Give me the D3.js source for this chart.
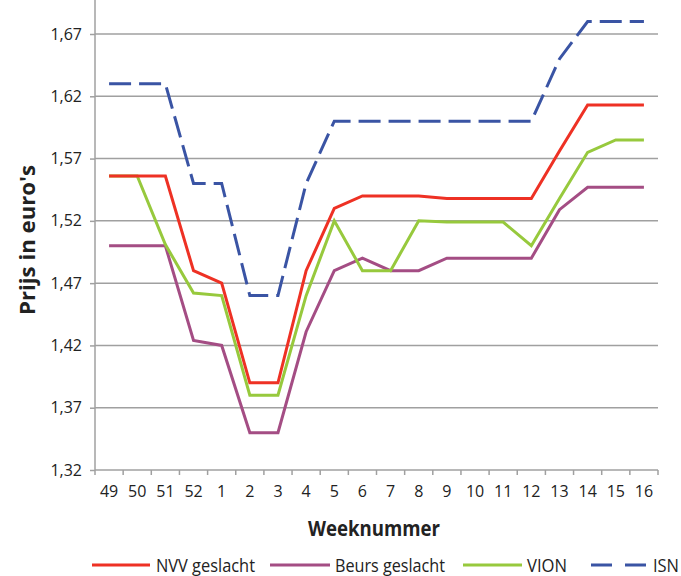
<!DOCTYPE html>
<html><head><meta charset="utf-8">
<script src="https://cdn.jsdelivr.net/npm/d3@7"></script>
<style>
body{margin:0;background:#fff;}
svg{display:block;}
text{font-family:"Open Sans",sans-serif;fill:#222;}
</style></head>
<body><svg id="c" width="681" height="576"></svg>
<script>
const weeks = ["49","50","51","52","1","2","3","4","5","6","7","8","9","10","11","12","13","14","15","16"];
const nvv   = [1.556,1.556,1.556,1.480,1.470,1.390,1.390,1.480,1.530,1.540,1.540,1.540,1.538,1.538,1.538,1.538,1.576,1.613,1.613,1.613];
const beurs = [1.500,1.500,1.500,1.424,1.420,1.350,1.350,1.431,1.480,1.490,1.480,1.480,1.490,1.490,1.490,1.490,1.529,1.547,1.547,1.547];
const vion  = [1.556,1.556,1.501,1.462,1.460,1.380,1.380,1.460,1.520,1.480,1.480,1.520,1.519,1.519,1.519,1.500,1.538,1.575,1.585,1.585];
const isn   = [1.630,1.630,1.630,1.550,1.550,1.460,1.460,1.550,1.600,1.600,1.600,1.600,1.600,1.600,1.600,1.600,1.650,1.680,1.680,1.680];
const yTicks = [1.32,1.37,1.42,1.47,1.52,1.57,1.62,1.67];
const seriesNames = ["NVV geslacht","Beurs geslacht","VION","ISN"];

const svg = d3.select("#c");
const L = 95, R = 658, B = 470;
const pxPerUnit = (470-34)/0.35;
const y = d3.scaleLinear().domain([1.32,1.72]).range([B, B - 0.40*pxPerUnit]);
const x = d3.scaleBand().domain(weeks).range([L,R]).padding(0);
const font = '"Open Sans",sans-serif';

// gridlines
svg.append("g").selectAll("line").data(yTicks.slice(1)).join("line")
  .attr("x1",L).attr("x2",R).attr("y1",d=>y(d)).attr("y2",d=>y(d))
  .attr("stroke","#a0a0a0").attr("stroke-width",1.5);

// y axis
const ya = svg.append("g").attr("transform",`translate(${L},0)`)
  .call(d3.axisLeft(y).tickValues(yTicks).tickSize(5).tickPadding(8)
    .tickFormat(d=>d.toFixed(2).replace(".",",")));
ya.select(".domain").remove();
ya.selectAll(".tick line").attr("stroke","#a0a0a0").attr("stroke-width",1.5);
ya.selectAll(".tick text").attr("font-size",16).attr("fill","#222").style("font-family",font);
svg.append("line").attr("x1",L).attr("x2",L).attr("y1",B).attr("y2",0)
  .attr("stroke","#a0a0a0").attr("stroke-width",1.5);

// x axis
const xa = svg.append("g").attr("transform",`translate(0,${B})`)
  .call(d3.axisBottom(x).tickSize(0).tickPadding(16));
xa.select(".domain").remove();
xa.selectAll(".tick text").attr("font-size",16).attr("fill","#222").style("font-family",font);
svg.append("line").attr("x1",L).attr("x2",R).attr("y1",B).attr("y2",B)
  .attr("stroke","#a0a0a0").attr("stroke-width",1.5);
const bounds = weeks.map(w=>x(w)).concat([x(weeks[weeks.length-1])+x.bandwidth()]);
svg.append("g").selectAll("line").data(bounds).join("line")
  .attr("x1",d=>d).attr("x2",d=>d).attr("y1",B).attr("y2",B+5)
  .attr("stroke","#a0a0a0").attr("stroke-width",1.5);

// lines
const line = d3.line().x((d,i)=>x(weeks[i])+x.bandwidth()/2).y(d=>y(d));
const series = [
  {name:seriesNames[0], vals:nvv, color:"#ee3124", dash:null},
  {name:seriesNames[1], vals:beurs, color:"#a44d84", dash:null},
  {name:seriesNames[2], vals:vion, color:"#97c93d", dash:null},
  {name:seriesNames[3], vals:isn, color:"#3a54a4", dash:"22,8"}
];
[series[1],series[2],series[0],series[3]].forEach(s=>{
  svg.append("path").datum(s.vals).attr("d",line)
    .attr("fill","none").attr("stroke",s.color).attr("stroke-width",3)
    .attr("stroke-linejoin","miter")
    .attr("stroke-dasharray",s.dash);
});

// titles
svg.append("text").attr("transform","translate(35,240) rotate(-90)")
  .attr("text-anchor","middle").attr("font-size",21).attr("font-weight","bold")
  .attr("textLength",150).attr("lengthAdjust","spacingAndGlyphs").text("Prijs in euro's");
svg.append("text").attr("x",374).attr("y",536)
  .attr("text-anchor","middle").attr("font-size",21).attr("font-weight","bold")
  .attr("textLength",132).attr("lengthAdjust","spacingAndGlyphs").text("Weeknummer");

// legend
const leg = [
  {x1:92,x2:150,tx:156,w:99},
  {x1:270,x2:330,tx:335,w:110},
  {x1:463,x2:522,tx:527,w:40},
  {x1:591,x2:647,tx:653,w:26}
];
const ly = 565;
series.forEach((s,i)=>{
  svg.append("line").attr("x1",leg[i].x1).attr("x2",leg[i].x2).attr("y1",ly).attr("y2",ly)
    .attr("stroke",s.color).attr("stroke-width",3).attr("stroke-dasharray",s.dash?"21,13":null);
  svg.append("text").attr("x",leg[i].tx).attr("y",ly+7).attr("font-size",18)
    .attr("textLength",leg[i].w).attr("lengthAdjust","spacingAndGlyphs").text(s.name);
});
</script></body></html>
